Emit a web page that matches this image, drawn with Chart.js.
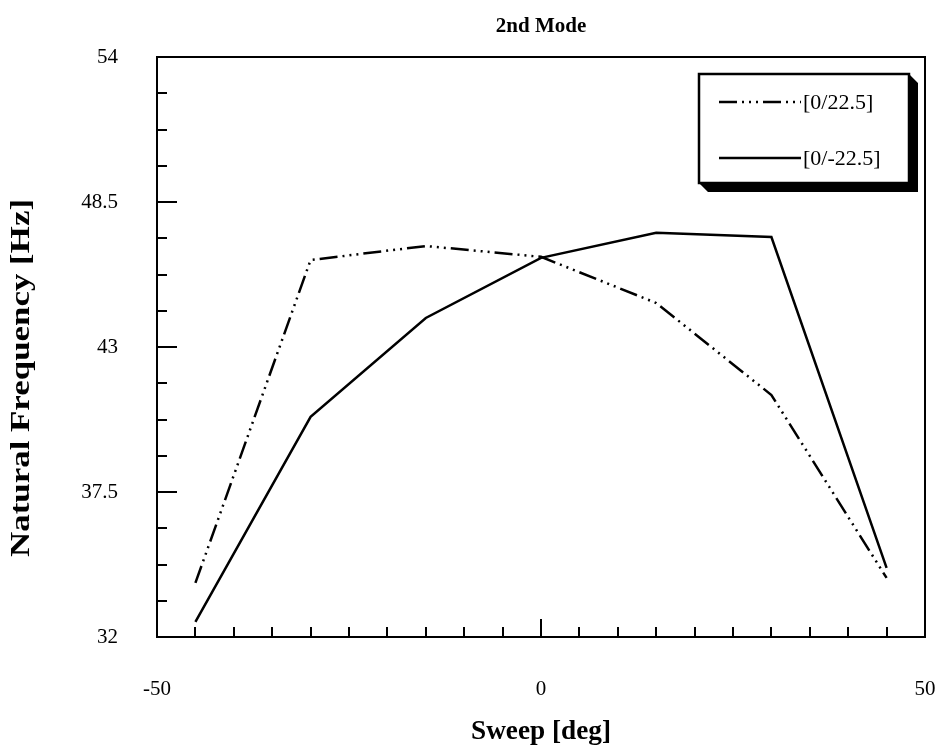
<!DOCTYPE html>
<html>
<head>
<meta charset="utf-8">
<script src="https://cdn.jsdelivr.net/npm/chart.js@4.4.0/dist/chart.umd.min.js"></script>
<style>
  html, body { margin: 0; padding: 0; background: #ffffff; }
  #wrap { width: 944px; height: 753px; }
</style>
</head>
<body>
<div id="wrap"><canvas id="c" width="944" height="753"></canvas></div>
<script>
// Sweep angle of the wing (deg)
const sweepAngles = [-45, -30, -15, 0, 15, 30, 45];
// Second-mode natural frequency (Hz) for each ply layup
const freqPlus = [34.05, 46.30, 46.83, 46.42, 44.67, 41.18, 34.24];
const freqMinus = [32.57, 40.35, 44.10, 46.38, 47.33, 47.17, 34.62];
const seriesNames = ['[0/22.5]', '[0/-22.5]'];
// Labelled ticks on each axis
const xTickLabels = [-50, 0, 50];
const yTickLabels = [32, 37.5, 43, 48.5, 54];

const SERIF = '"Liberation Serif", "DejaVu Serif", serif';
const DASH_DOT3 = [18, 5, 2, 5, 2, 5, 2, 5];

const toPoints = (xs, ys) => xs.map((x, i) => ({ x: x, y: ys[i] }));

// Draws text centred at (0,0), stretched along its baseline to a given length
function stretchedText(ctx, text, length) {
  const w = ctx.measureText(text).width;
  ctx.save();
  ctx.scale(length / w, 1);
  ctx.fillText(text, 0, 0);
  ctx.restore();
}

// Frame, inward tick marks, titles and the boxed legend
const decorations = {
  id: 'decorations',
  afterDraw(chart) {
    const ctx = chart.ctx;
    const area = chart.chartArea;
    const xs = chart.scales.x;
    const ys = chart.scales.y;
    const midX = (area.left + area.right) / 2;
    ctx.save();
    ctx.strokeStyle = '#000';
    ctx.lineWidth = 2;
    ctx.strokeRect(area.left, area.top, area.right - area.left, area.bottom - area.top);

    // x ticks every 5 deg, pointing into the plot
    for (let v = xs.min; v <= xs.max + 1e-9; v += 5) {
      const px = Math.round(xs.getPixelForValue(v));
      const len = (v === 0) ? 18 : 10;
      ctx.beginPath();
      ctx.moveTo(px, area.bottom);
      ctx.lineTo(px, area.bottom - len);
      ctx.stroke();
    }
    // y ticks: four minor steps between labelled values
    const yStep = (yTickLabels[1] - yTickLabels[0]) / 4;
    for (let i = 0; i <= Math.round((ys.max - ys.min) / yStep); i++) {
      const v = ys.min + i * yStep;
      const py = Math.round(ys.getPixelForValue(v));
      const len = (i % 4 === 0) ? 20 : 10;
      ctx.beginPath();
      ctx.moveTo(area.left, py);
      ctx.lineTo(area.left + len, py);
      ctx.stroke();
    }

    // Titles
    ctx.fillStyle = '#000';
    ctx.textAlign = 'center';
    ctx.textBaseline = 'middle';
    ctx.font = 'bold 21px ' + SERIF;
    ctx.fillText('2nd Mode', midX, 27);
    ctx.font = 'bold 27px ' + SERIF;
    ctx.save();
    ctx.translate(midX, 732);
    stretchedText(ctx, 'Sweep [deg]', 140);
    ctx.restore();
    ctx.font = 'bold 28px ' + SERIF;
    ctx.save();
    ctx.translate(22, 378);
    ctx.rotate(-Math.PI / 2);
    stretchedText(ctx, 'Natural Frequency [Hz]', 358);
    ctx.restore();

    // Legend box with a heavy drop shadow
    const bx = 699, by = 74, bw = 210, bh = 109, sh = 9;
    ctx.beginPath();
    ctx.moveTo(bx + bw, by);
    ctx.lineTo(bx + bw + sh, by + sh);
    ctx.lineTo(bx + bw + sh, by + bh + sh);
    ctx.lineTo(bx + sh, by + bh + sh);
    ctx.lineTo(bx, by + bh);
    ctx.lineTo(bx + bw, by + bh);
    ctx.closePath();
    ctx.fill();
    ctx.fillStyle = '#fff';
    ctx.fillRect(bx, by, bw, bh);
    ctx.lineWidth = 2.5;
    ctx.strokeRect(bx, by, bw, bh);

    const rows = [102, 158];
    ctx.textAlign = 'left';
    ctx.font = '22px ' + SERIF;
    chart.data.datasets.forEach((ds, i) => {
      ctx.strokeStyle = ds.borderColor;
      ctx.lineWidth = ds.borderWidth;
      ctx.setLineDash(ds.borderDash || []);
      ctx.beginPath();
      ctx.moveTo(719, rows[i]);
      ctx.lineTo(801, rows[i]);
      ctx.stroke();
      ctx.setLineDash([]);
      ctx.fillStyle = '#000';
      ctx.fillText(ds.label, 803, rows[i] + 1);
    });
    ctx.restore();
  }
};

new Chart(document.getElementById('c'), {
  type: 'line',
  data: {
    datasets: [
      {
        label: seriesNames[0],
        data: toPoints(sweepAngles, freqPlus),
        borderColor: '#000',
        borderWidth: 2.5,
        borderDash: DASH_DOT3,
        pointRadius: 0,
        fill: false,
        tension: 0
      },
      {
        label: seriesNames[1],
        data: toPoints(sweepAngles, freqMinus),
        borderColor: '#000',
        borderWidth: 2.5,
        pointRadius: 0,
        fill: false,
        tension: 0
      }
    ]
  },
  options: {
    responsive: false,
    animation: false,
    devicePixelRatio: 1,
    layout: { padding: { top: 57, right: 19, left: 0, bottom: 0 } },
    plugins: {
      legend: { display: false },
      title: { display: false },
      tooltip: { enabled: false }
    },
    scales: {
      x: {
        type: 'linear',
        min: -50,
        max: 50,
        grid: { display: false, drawTicks: false },
        border: { display: false },
        afterFit(s) { s.height = 116; s.paddingLeft = 0; s.paddingRight = 0; },
        afterBuildTicks(s) { s.ticks = xTickLabels.map(v => ({ value: v })); },
        ticks: {
          padding: 40,
          color: '#000',
          font: { family: SERIF, size: 21 },
          maxRotation: 0,
          callback: v => String(v)
        }
      },
      y: {
        type: 'linear',
        min: 32,
        max: 54,
        grid: { display: false, drawTicks: false },
        border: { display: false },
        afterFit(s) { s.width = 157; s.paddingTop = 0; s.paddingBottom = 0; },
        afterBuildTicks(s) { s.ticks = yTickLabels.map(v => ({ value: v })); },
        ticks: {
          padding: 39,
          color: '#000',
          font: { family: SERIF, size: 21 },
          callback: v => String(v)
        }
      }
    }
  },
  plugins: [decorations]
});
</script>
</body>
</html>
